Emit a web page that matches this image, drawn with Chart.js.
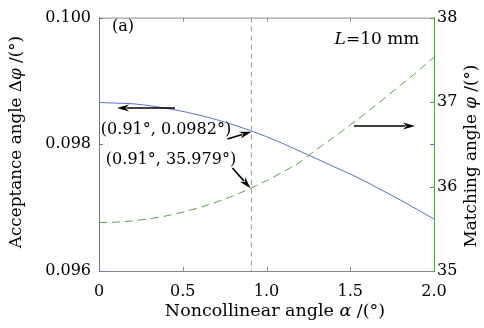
<!DOCTYPE html>
<html>
<head>
<meta charset="utf-8">
<script src="https://cdn.jsdelivr.net/npm/chart.js@4/dist/chart.umd.min.js"></script>
<style>
  html, body { margin: 0; padding: 0; background: #fff; }
  canvas { display: block; }
</style>
</head>
<body>
<canvas id="chart" width="484" height="328"></canvas>
<script>
const alpha = [0, 0.1, 0.2, 0.3, 0.4, 0.5, 0.6, 0.7, 0.8, 0.9, 1.0,
  1.1, 1.2, 1.3, 1.4, 1.5, 1.6, 1.7, 1.8, 1.9, 2.0];
const acceptance = [0.09866, 0.09865, 0.09864, 0.09861, 0.09857, 0.09852, 0.09846,
  0.09839, 0.09831, 0.09822, 0.09812, 0.09801, 0.09789, 0.09777, 0.09765,
  0.09753, 0.09740, 0.09726, 0.09712, 0.09697, 0.09682];
const matching = [35.573, 35.578, 35.593, 35.618, 35.652, 35.697, 35.751,
  35.816, 35.890, 35.974, 36.070, 36.175, 36.290, 36.44, 36.58,
  36.73, 36.88, 37.04, 37.20, 37.36, 37.53];

const xTicks = [0, 0.5, 1.0, 1.5, 2.0];
const xTickLabels = ["0", "0.5", "1.0", "1.5", "2.0"];
const leftTicks = [0.096, 0.098, 0.100];
const leftTickLabels = ["0.096", "0.098", "0.100"];
const rightTicks = [35, 36, 37, 38];
const rightTickLabels = ["35", "36", "37", "38"];

const markAlpha = 0.91;
const markAcceptance = 0.0982;
const markMatching = 35.979;

const BLUE = "#5a6ed6";
const GREEN = "#5a9e4c";
const FONT = '"DejaVu Serif", serif';
const font = { family: FONT, size: 16 };

function richText(ctx, parts, cx, cy, rot, size) {
  size = size || 16;
  ctx.save();
  ctx.translate(cx, cy);
  ctx.rotate(rot || 0);
  ctx.textBaseline = "middle";
  ctx.textAlign = "left";
  ctx.fillStyle = "#000";
  let total = 0;
  parts.forEach(p => {
    ctx.font = (p.i ? "italic " : "") + size + "px " + FONT;
    p.w = ctx.measureText(p.t).width;
    total += p.w;
  });
  let x = -total / 2;
  parts.forEach(p => {
    ctx.font = (p.i ? "italic " : "") + size + "px " + FONT;
    ctx.fillText(p.t, x, 0);
    x += p.w;
  });
  ctx.restore();
}

function arrow(ctx, x1, y1, x2, y2) {
  const a = Math.atan2(y2 - y1, x2 - x1);
  const len = 12, hw = 3.5;
  ctx.save();
  ctx.strokeStyle = "#000";
  ctx.fillStyle = "#000";
  ctx.lineWidth = 1.6;
  ctx.beginPath();
  ctx.moveTo(x1, y1);
  ctx.lineTo(x2 - Math.cos(a) * len * 0.8, y2 - Math.sin(a) * len * 0.8);
  ctx.stroke();
  ctx.beginPath();
  ctx.moveTo(x2, y2);
  ctx.lineTo(x2 - Math.cos(a) * len - Math.sin(a) * hw, y2 - Math.sin(a) * len + Math.cos(a) * hw);
  ctx.lineTo(x2 - Math.cos(a) * len * 0.7, y2 - Math.sin(a) * len * 0.7);
  ctx.lineTo(x2 - Math.cos(a) * len + Math.sin(a) * hw, y2 - Math.sin(a) * len - Math.cos(a) * hw);
  ctx.closePath();
  ctx.fill();
  ctx.restore();
}

const decor = {
  id: "decor",
  afterDraw(chart) {
    const ctx = chart.ctx;
    const { left, right, top, bottom } = chart.chartArea;
    const sx = chart.scales.x, sy = chart.scales.y, sy1 = chart.scales.y1;

    // dashed marker line
    const mx = sx.getPixelForValue(markAlpha);
    ctx.save();
    ctx.strokeStyle = "#9a9a9a";
    ctx.lineWidth = 1;
    ctx.setLineDash([5, 4]);
    ctx.beginPath();
    ctx.moveTo(mx, top);
    ctx.lineTo(mx, bottom);
    ctx.stroke();
    ctx.restore();

    // frame
    ctx.save();
    ctx.lineWidth = 1;
    ctx.strokeStyle = "#8a8a8a";
    ctx.beginPath();
    ctx.moveTo(left, top + 0.5); ctx.lineTo(right, top + 0.5);
    ctx.moveTo(left, bottom + 0.5); ctx.lineTo(right, bottom + 0.5);
    xTicks.forEach(v => {
      const px = Math.round(sx.getPixelForValue(v)) + 0.5;
      ctx.moveTo(px, top); ctx.lineTo(px, top + 4);
      ctx.moveTo(px, bottom); ctx.lineTo(px, bottom - 4);
    });
    ctx.stroke();
    ctx.strokeStyle = BLUE;
    ctx.beginPath();
    ctx.moveTo(left + 0.5, top); ctx.lineTo(left + 0.5, bottom + 1);
    leftTicks.forEach(v => {
      const py = Math.round(sy.getPixelForValue(v)) + 0.5;
      ctx.moveTo(left, py); ctx.lineTo(left + 4, py);
      ctx.moveTo(right, py); ctx.lineTo(right - 4, py);
    });
    ctx.stroke();
    ctx.strokeStyle = GREEN;
    ctx.beginPath();
    ctx.moveTo(right + 0.5, top); ctx.lineTo(right + 0.5, bottom + 1);
    rightTicks.forEach(v => {
      const py = Math.round(sy1.getPixelForValue(v)) + 0.5;
      ctx.moveTo(right, py); ctx.lineTo(right - 4, py);
    });
    ctx.stroke();
    ctx.restore();

    // axis titles
    richText(ctx, [{ t: "Noncollinear angle " }, { t: "α", i: true }, { t: " /(°)" }], 275, 311, 0, 17.5);
    richText(ctx, [{ t: "Acceptance angle Δ" }, { t: "φ", i: true }, { t: " /(°)" }], 17, 142, -Math.PI / 2, 16.8);
    richText(ctx, [{ t: "Matching angle " }, { t: "φ", i: true }, { t: " /(°)" }], 472, 156, -Math.PI / 2, 16.8);

    // labels
    richText(ctx, [{ t: "(a)" }], 123, 27);
    richText(ctx, [{ t: "L", i: true }, { t: "=10 mm" }], 377, 40, 0, 17);
    richText(ctx, [{ t: "(0.91°, 0.0982°)" }], 166, 130);
    richText(ctx, [{ t: "(0.91°, 35.979°)" }], 171, 160);

    // arrows
    arrow(ctx, left + 76, 108, left + 18, 108);
    arrow(ctx, right - 80, 126, right - 19, 126);
    arrow(ctx, mx - 24, 139, mx, sy.getPixelForValue(markAcceptance));
    arrow(ctx, mx - 19, 168, mx - 1, sy1.getPixelForValue(markMatching));
  }
};

new Chart(document.getElementById("chart"), {
  type: "line",
  data: {
    datasets: [{
      data: alpha.map((a, i) => ({ x: a, y: acceptance[i] })),
      yAxisID: "y",
      borderColor: BLUE,
      borderWidth: 1,
      pointRadius: 0,
      cubicInterpolationMode: "monotone"
    }, {
      data: alpha.map((a, i) => ({ x: a, y: matching[i] })),
      yAxisID: "y1",
      borderColor: GREEN,
      borderWidth: 1,
      borderDash: [8, 5],
      pointRadius: 0,
      cubicInterpolationMode: "monotone"
    }]
  },
  options: {
    responsive: false,
    animation: false,
    devicePixelRatio: 1,
    layout: { padding: { top: 13, left: 0, right: 0, bottom: 0 } },
    plugins: { legend: { display: false }, tooltip: { enabled: false } },
    scales: {
      x: {
        type: "linear",
        min: 0, max: 2,
        afterBuildTicks: s => { s.ticks = xTicks.map(v => ({ value: v })); },
        afterFit: s => { s.height = 57; },
        ticks: { callback: (v, i) => xTickLabels[i], font, color: "#000", padding: 11, maxRotation: 0, autoSkip: false },
        grid: { display: false, drawTicks: false },
        border: { display: false }
      },
      y: {
        position: "left",
        min: 0.096, max: 0.100,
        afterBuildTicks: s => { s.ticks = leftTicks.map(v => ({ value: v })); },
        afterFit: s => { s.width = 99; },
        ticks: { callback: (v, i) => leftTickLabels[i], font, color: "#000", padding: 8, autoSkip: false },
        grid: { display: false, drawTicks: false },
        border: { display: false }
      },
      y1: {
        position: "right",
        min: 35, max: 38,
        afterBuildTicks: s => { s.ticks = rightTicks.map(v => ({ value: v })); },
        afterFit: s => { s.width = 50; },
        ticks: { callback: (v, i) => rightTickLabels[i], font, color: "#000", padding: 3, autoSkip: false },
        grid: { display: false, drawTicks: false },
        border: { display: false }
      }
    }
  },
  plugins: [decor]
});
</script>
</body>
</html>
